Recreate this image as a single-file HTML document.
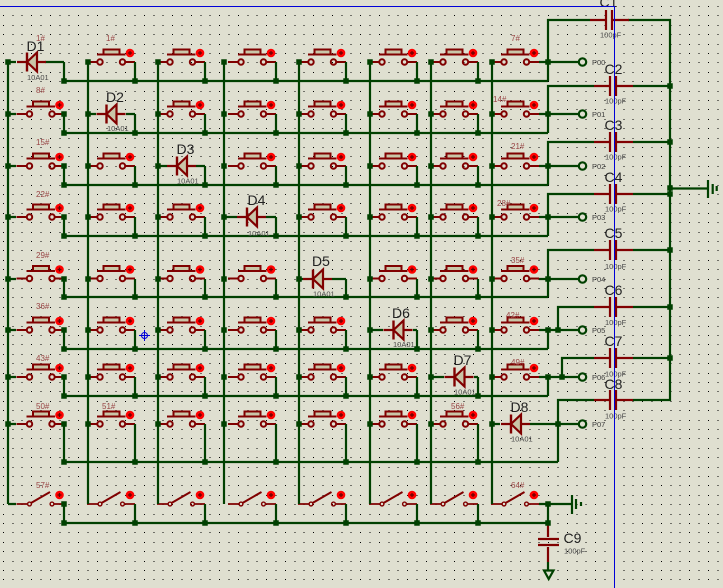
<!DOCTYPE html>
<html><head><meta charset="utf-8"><style>
html,body{margin:0;padding:0;background:#dfdfd0;width:723px;height:588px;overflow:hidden}
svg{display:block}
text{font-family:"Liberation Sans",sans-serif}
.d{font-size:14px;fill:#222}
.v{font-size:7.5px;fill:#4a4a4a}
.l{font-size:8px;fill:#984444}
.p{font-size:7.5px;fill:#3c3c3c}
</style></head><body>
<svg xmlns="http://www.w3.org/2000/svg" width="723" height="588" viewBox="0 0 723 588">
<defs>
<g id="s" fill="none" stroke="#800000" stroke-width="2">
<path d="M-13 0H-3M25.500 0H35M-3 -7.500H25.500" />
<rect x="3.500" y="-12.500" width="16" height="5" fill="#c9c6a8"/>
<circle cx="0" cy="0" r="2.700"/><circle cx="22.500" cy="0" r="2.700"/>
<circle cx="30" cy="-9" r="3.800" fill="#f00" stroke="#f00" stroke-width="1"/>
<path d="M28 -9H32M30 -11V-7" stroke="#600" stroke-width="1.200"/>
</g>
<g id="o" fill="none" stroke="#800000" stroke-width="1.800">
<path d="M-13 0H-2M24 0H35"/>
<path d="M1.500 -1L20.500 -12" stroke-width="2"/>
<circle cx="0" cy="0" r="1.900" stroke-width="1.400"/><circle cx="22.500" cy="0" r="1.900" stroke-width="1.400"/>
<circle cx="30" cy="-9" r="3.800" fill="#f00" stroke="#f00" stroke-width="1"/>
<path d="M28 -9H32M30 -11V-7" stroke="#600" stroke-width="1.200"/>
</g>
<g id="dd" fill="none" stroke="#800000" stroke-width="2.200">
<path d="M-10 0H0M10 0H19"/>
<path d="M10 -9.500V9.500L0 0Z" fill="#c9c6a8"/>
<path d="M0 -9.500V9.500" stroke-width="2.400"/>
</g>
<g id="cp" fill="none" stroke="#800000" stroke-width="2.200">
<path d="M-16 0H-1M7 0H23M0 -10V10M6 -10V10"/>
</g>
<path id="jr" d="M8 0h0M88 0h0M158 0h0M224 0h0M299 0h0M370 0h0M431 0h0M492 0h0"/>
<path id="jb" d="M64 0h0M135 0h0M205 0h0M276 0h0M346 0h0M417 0h0M478 0h0"/>
<path id="dr" d="M0 62V81M0 114V133M0 166V185M0 217V236M0 279V297M0 330V349M0 377V396M0 424V462M0 504V523"/>
<path id="cl" d="M0 62V504"/>
</defs>
<rect width="723" height="588" fill="#dfdfd0"/>
<path fill="none" stroke="#000" stroke-width="1" stroke-dasharray="1 8.400" stroke-dashoffset="6.500" shape-rendering="crispEdges" d="M0 6.500H723M0 15.500H723M0 25.500H723M0 34.500H723M0 44.500H723M0 53.500H723M0 62.500H723M0 72.500H723M0 81.500H723M0 91.500H723M0 100.500H723M0 109.500H723M0 119.500H723M0 128.500H723M0 138.500H723M0 147.500H723M0 156.500H723M0 166.500H723M0 175.500H723M0 185.500H723M0 194.500H723M0 203.500H723M0 213.500H723M0 222.500H723M0 232.500H723M0 241.500H723M0 250.500H723M0 260.500H723M0 269.500H723M0 279.500H723M0 288.500H723M0 297.500H723M0 307.500H723M0 316.500H723M0 326.500H723M0 335.500H723M0 344.500H723M0 354.500H723M0 363.500H723M0 373.500H723M0 382.500H723M0 391.500H723M0 401.500H723M0 410.500H723M0 420.500H723M0 429.500H723M0 438.500H723M0 448.500H723M0 457.500H723M0 467.500H723M0 476.500H723M0 485.500H723M0 495.500H723M0 504.500H723M0 514.500H723M0 523.500H723M0 532.500H723M0 542.500H723M0 551.500H723M0 561.500H723M0 570.500H723M0 579.500H723"/>

<!-- push switches -->
<use href="#s" x="100" y="62"/><use href="#s" x="170" y="62"/><use href="#s" x="241" y="62"/><use href="#s" x="311" y="62"/><use href="#s" x="382" y="62"/><use href="#s" x="443" y="62"/><use href="#s" x="504" y="62"/>
<use href="#s" x="29.500" y="114"/><use href="#s" x="170" y="114"/><use href="#s" x="241" y="114"/><use href="#s" x="311" y="114"/><use href="#s" x="382" y="114"/><use href="#s" x="443" y="114"/><use href="#s" x="504" y="114"/>
<use href="#s" x="29.500" y="166"/><use href="#s" x="100" y="166"/><use href="#s" x="241" y="166"/><use href="#s" x="311" y="166"/><use href="#s" x="382" y="166"/><use href="#s" x="443" y="166"/><use href="#s" x="504" y="166"/>
<use href="#s" x="29.500" y="217"/><use href="#s" x="100" y="217"/><use href="#s" x="170" y="217"/><use href="#s" x="311" y="217"/><use href="#s" x="382" y="217"/><use href="#s" x="443" y="217"/><use href="#s" x="504" y="217"/>
<use href="#s" x="29.500" y="278.500"/><use href="#s" x="100" y="278.500"/><use href="#s" x="170" y="278.500"/><use href="#s" x="241" y="278.500"/><use href="#s" x="382" y="278.500"/><use href="#s" x="443" y="278.500"/><use href="#s" x="504" y="278.500"/>
<use href="#s" x="29.500" y="330"/><use href="#s" x="100" y="330"/><use href="#s" x="170" y="330"/><use href="#s" x="241" y="330"/><use href="#s" x="311" y="330"/><use href="#s" x="443" y="330"/><use href="#s" x="504" y="330"/>
<use href="#s" x="29.500" y="377"/><use href="#s" x="100" y="377"/><use href="#s" x="170" y="377"/><use href="#s" x="241" y="377"/><use href="#s" x="311" y="377"/><use href="#s" x="382" y="377"/><use href="#s" x="504" y="377"/>
<use href="#s" x="29.500" y="424"/><use href="#s" x="100" y="424"/><use href="#s" x="170" y="424"/><use href="#s" x="241" y="424"/><use href="#s" x="311" y="424"/><use href="#s" x="382" y="424"/><use href="#s" x="443" y="424"/>
<!-- open switches -->
<use href="#o" x="29.500" y="504"/><use href="#o" x="100" y="504"/><use href="#o" x="170" y="504"/><use href="#o" x="241" y="504"/><use href="#o" x="311" y="504"/><use href="#o" x="382" y="504"/><use href="#o" x="443" y="504"/><use href="#o" x="504" y="504"/>

<!-- wires -->
<g fill="none" stroke="#004000" stroke-width="2.200">
<use href="#cl" x="8"/><use href="#cl" x="88"/><use href="#cl" x="158"/><use href="#cl" x="224"/><use href="#cl" x="299"/><use href="#cl" x="370"/><use href="#cl" x="431"/><use href="#cl" x="492"/>
<use href="#dr" x="64"/><use href="#dr" x="135"/><use href="#dr" x="205"/><use href="#dr" x="276"/><use href="#dr" x="346"/><use href="#dr" x="417"/><use href="#dr" x="478"/>
<path d="M64 81H548M64 133H548M64 185H548M64 236H548M64 297H548M64 349H548M64 396H548M64 462H558M64 523H548"/>
<path d="M8 62H16M8 114H16M8 166H16M8 217H16M8 279H16M8 330H16M8 377H16M8 424H16M8 504H16"/>
<path d="M45 62H64M88 114H96M126 114H135M158 166H167M196 166H205M224 217H237M266 217H276M299 279H303M332 279H346M370 330H383M413 330H417M431 377H444M474 377H478M492 424H500M530 424H578"/>
<path d="M539 62H578M539 114H578M539 166H578M539 217H578M539 279H578M539 330H578M539 377H578"/>
<path d="M548 81V20H590M548 133V86H594M548 185V142H594M548 236V194H594M548 297V250H594M548 349V330M548 396V377M558 330V307H594M562 377V358H594M558 462V400H594"/>
<path d="M628 20H670V400H633M633 86H670M633 142H670M633 194H670M633 250H670M633 307H670M633 358H670"/>
<path d="M670 188.500H708M539 504H572M548 504V523M548 562V570"/>
<path d="M708 180V198M712.700 184V194M716.700 186V191M572 495V514M576 499V509M581 502V506"/>
<circle cx="582.500" cy="62" r="3.700"/><circle cx="582.500" cy="114" r="3.700"/><circle cx="582.500" cy="166" r="3.700"/><circle cx="582.500" cy="217" r="3.700"/><circle cx="582.500" cy="279" r="3.700"/><circle cx="582.500" cy="330" r="3.700"/><circle cx="582.500" cy="377" r="3.700"/><circle cx="582.500" cy="424" r="3.700"/>
<path d="M544 570.500H553.500L548.700 579Z" fill="#dfdfd0"/>
</g>

<!-- diodes -->
<use href="#dd" x="27" y="62"/><use href="#dd" x="106.500" y="114"/><use href="#dd" x="177" y="166"/><use href="#dd" x="247" y="217"/><use href="#dd" x="313" y="279"/><use href="#dd" x="393.500" y="330"/><use href="#dd" x="454.500" y="377"/><use href="#dd" x="511" y="424"/>

<!-- capacitors -->
<use href="#cp" x="606" y="20"/><use href="#cp" x="610" y="86"/><use href="#cp" x="610" y="142"/><use href="#cp" x="610" y="194"/><use href="#cp" x="610" y="250"/><use href="#cp" x="610" y="307"/><use href="#cp" x="610" y="358"/><use href="#cp" x="610" y="400"/>
<path d="M548 523V537M548 547V562M538 539H559M538 545H559" fill="none" stroke="#800000" stroke-width="2.200"/>

<!-- junctions -->
<g fill="none" stroke="#004000" stroke-width="5.500" stroke-linecap="square">
<use href="#jr" y="62"/><use href="#jr" y="114"/><use href="#jr" y="166"/><use href="#jr" y="217"/><use href="#jr" y="279"/><use href="#jr" y="330"/><use href="#jr" y="377"/><use href="#jr" y="424"/>
<use href="#jb" y="81"/><use href="#jb" y="133"/><use href="#jb" y="185"/><use href="#jb" y="236"/><use href="#jb" y="297"/><use href="#jb" y="349"/><use href="#jb" y="396"/><use href="#jb" y="462"/><use href="#jb" y="523"/>
<path d="M64 114h0M64 166h0M64 217h0M64 279h0M64 330h0M64 377h0M64 424h0M64 504h0M548 62h0M548 114h0M548 166h0M548 217h0M548 279h0M548 330h0M548 377h0M558 330h0M562 377h0M558 424h0M548 504h0M548 523h0M670 86h0M670 142h0M670 188h0M670 194h0M670 250h0M670 307h0M670 358h0"/>
</g>

<!-- switch labels -->
<text class="l" x="36" y="41">1#</text><text class="l" x="106" y="41">1#</text><text class="l" x="511" y="41">7#</text>
<text class="l" x="36" y="93">8#</text><text class="l" x="493" y="102">14#</text>
<text class="l" x="36" y="145">15#</text><text class="l" x="511" y="149">21#</text>
<text class="l" x="36" y="197">22#</text><text class="l" x="497" y="206">28#</text>
<text class="l" x="36" y="258">29#</text><text class="l" x="511" y="263">35#</text>
<text class="l" x="36" y="309">36#</text><text class="l" x="506" y="318">42#</text>
<text class="l" x="36" y="361">43#</text><text class="l" x="511" y="365">49#</text>
<text class="l" x="36" y="409">50#</text><text class="l" x="102" y="409">51#</text><text class="l" x="451" y="409">56#</text>
<text class="l" x="36" y="488">57#</text><text class="l" x="511" y="488">64#</text>

<!-- diode labels -->
<text class="d" x="26.500" y="51">D1</text><text class="v" x="27" y="80">10A01</text>
<text class="d" x="106" y="102">D2</text><text class="v" x="107" y="131">10A01</text>
<text class="d" x="176.500" y="154">D3</text><text class="v" x="177" y="183.500">10A01</text>
<text class="d" x="247.500" y="205">D4</text><text class="v" x="248" y="236">10A01</text>
<text class="d" x="312" y="266">D5</text><text class="v" x="313" y="296.500">10A01</text>
<text class="d" x="392" y="318">D6</text><text class="v" x="393" y="347">10A01</text>
<text class="d" x="453.500" y="365">D7</text><text class="v" x="454" y="394.500">10A01</text>
<text class="d" x="510.500" y="412">D8</text><text class="v" x="511" y="441.500">10A01</text>

<!-- capacitor labels -->
<text class="d" x="599.500" y="7">C1</text><text class="v" x="600" y="37.500">100pF</text>
<text class="d" x="604.500" y="74">C2</text><text class="v" x="605" y="103.500">100pF</text>
<text class="d" x="604.500" y="130">C3</text><text class="v" x="605" y="159.500">100pF</text>
<text class="d" x="604.500" y="182">C4</text><text class="v" x="605" y="211.500">100pF</text>
<text class="d" x="604.500" y="238">C5</text><text class="v" x="605" y="269">100pF</text>
<text class="d" x="604.500" y="295">C6</text><text class="v" x="605" y="325">100pF</text>
<text class="d" x="604.500" y="346">C7</text><text class="v" x="605" y="376.500">100pF</text>
<text class="d" x="604.500" y="389">C8</text><text class="v" x="605" y="418.500">100pF</text>
<text class="d" x="563.500" y="543">C9</text><text class="v" x="564" y="553.500">100pF</text>

<!-- port labels -->
<text class="p" x="592" y="65">P00</text><text class="p" x="592" y="117">P01</text><text class="p" x="592" y="169">P02</text><text class="p" x="592" y="220">P03</text><text class="p" x="592" y="282">P04</text><text class="p" x="592" y="333">P05</text><text class="p" x="592" y="380">P06</text><text class="p" x="592" y="427">P07</text>

<!-- blue sheet border and cursor -->
<path d="M0 6.500H614.500V588" fill="none" stroke="#0000d8" stroke-width="1"/>
<g fill="none" stroke="#0000d8" stroke-width="1">
<circle cx="144.500" cy="335.500" r="3"/><path d="M139 335.500H150M144.500 330V341"/>
</g>
</svg>
</body></html>
